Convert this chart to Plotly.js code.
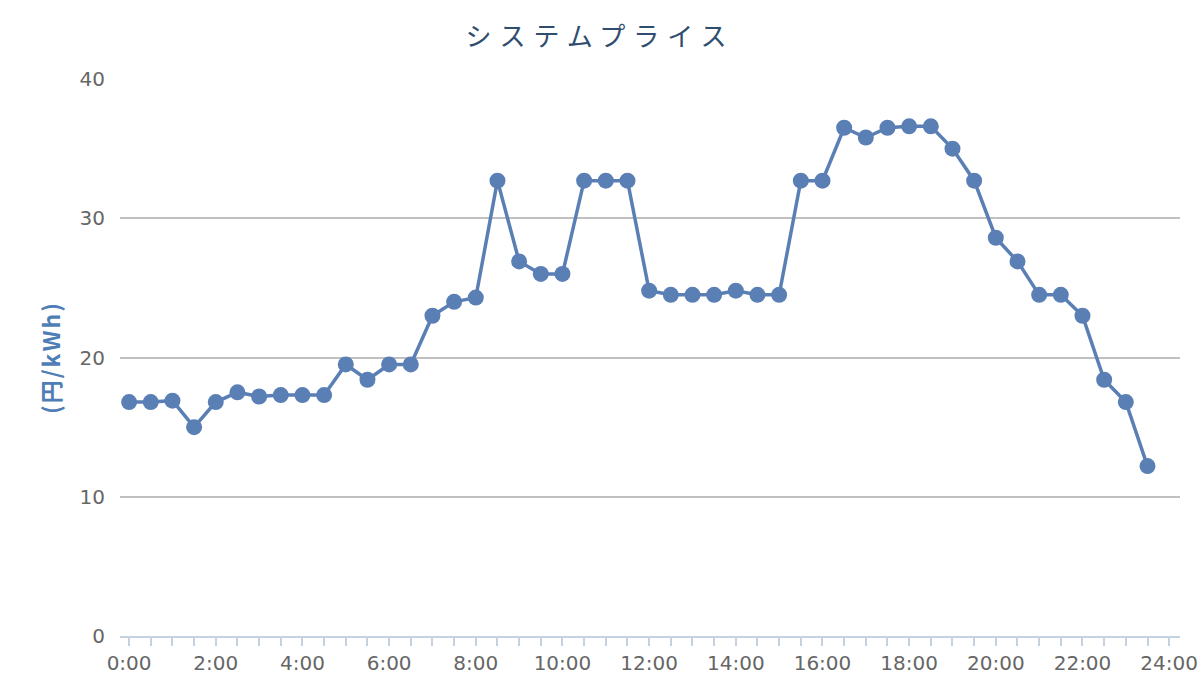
<!DOCTYPE html>
<html>
<head>
<meta charset="utf-8">
<script src="https://cdn.plot.ly/plotly-3.0.1.min.js"></script>
<style>
  html, body { margin: 0; padding: 0; background: #fff; }
  #chart { width: 1200px; height: 700px; }
  .gtitle { letter-spacing: 8px; }
  .ytitle { letter-spacing: 2px; }
</style>
</head>
<body>
<div id="chart"></div>
<script>
const chartTitle = "システムプライス";
const yAxisTitle = "(円/kWh)";

const times = [
  "0:00","0:30","1:00","1:30","2:00","2:30","3:00","3:30",
  "4:00","4:30","5:00","5:30","6:00","6:30","7:00","7:30",
  "8:00","8:30","9:00","9:30","10:00","10:30","11:00","11:30",
  "12:00","12:30","13:00","13:30","14:00","14:30","15:00","15:30",
  "16:00","16:30","17:00","17:30","18:00","18:30","19:00","19:30",
  "20:00","20:30","21:00","21:30","22:00","22:30","23:00","23:30"
];

const prices = [
  16.8, 16.8, 16.9, 15.0, 16.8, 17.5, 17.2, 17.3,
  17.3, 17.3, 19.5, 18.4, 19.5, 19.5, 23.0, 24.0,
  24.3, 32.7, 26.9, 26.0, 26.0, 32.7, 32.7, 32.7,
  24.8, 24.5, 24.5, 24.5, 24.8, 24.5, 24.5, 32.7,
  32.7, 36.5, 35.8, 36.5, 36.6, 36.6, 35.0, 32.7,
  28.6, 26.9, 24.5, 24.5, 23.0, 18.4, 16.8, 12.2
];

const tickLabels = ["0:00","2:00","4:00","6:00","8:00","10:00","12:00","14:00","16:00","18:00","20:00","22:00","24:00"];
const yTicks = [0, 10, 20, 30, 40];

function toHours(s) {
  const p = s.split(":");
  return Number(p[0]) + Number(p[1]) / 60;
}
const xHours = times.map(toHours);
const tickHours = tickLabels.map(toHours);

const lineColor = "#5a7fb5";

const trace = {
  type: "scatter",
  mode: "lines+markers",
  x: xHours,
  y: prices,
  line: { color: lineColor, width: 3.5 },
  marker: { color: lineColor, size: 16 },
  hoverinfo: "y"
};

const layout = {
  width: 1200,
  height: 700,
  paper_bgcolor: "#ffffff",
  plot_bgcolor: "#ffffff",
  showlegend: false,
  margin: { l: 120, r: 20, t: 79, b: 64 },
  font: { family: "DejaVu Sans, sans-serif", color: "#666666" },
  title: {
    text: chartTitle,
    x: 0.5,
    xanchor: "center",
    y: 0.947,
    yanchor: "middle",
    font: { family: "Noto Sans CJK JP, sans-serif", size: 26, color: "#2f4d6e" }
  },
  xaxis: {
    range: [-0.21, 24.25],
    tickmode: "array",
    tickvals: tickHours,
    ticktext: tickLabels,
    ticks: "outside",
    ticklen: 8,
    tickwidth: 2,
    tickcolor: "#c5d2e2",
    minor: { dtick: 0.5, tick0: 0, ticks: "outside", ticklen: 8, tickwidth: 2, tickcolor: "#c5d2e2", showgrid: false },
    showline: true,
    linecolor: "#c5d2e2",
    linewidth: 2,
    showgrid: false,
    zeroline: false,
    tickfont: { size: 20, color: "#666666" }
  },
  yaxis: {
    range: [0, 40],
    tickmode: "array",
    tickvals: yTicks,
    ticks: "",
    showgrid: true,
    gridcolor: "#c0c0c0",
    gridwidth: 2,
    zeroline: false,
    showline: false,
    ticklabelstandoff: 14,
    tickfont: { size: 20, color: "#666666" },
    title: {
      text: yAxisTitle,
      standoff: 12,
      font: { family: "Noto Sans CJK JP, DejaVu Sans, sans-serif", size: 23, color: "#4f7db5", weight: "bold" }
    }
  }
};

Plotly.newPlot("chart", [trace], layout, { displayModeBar: false, staticPlot: true });
</script>
</body>
</html>
